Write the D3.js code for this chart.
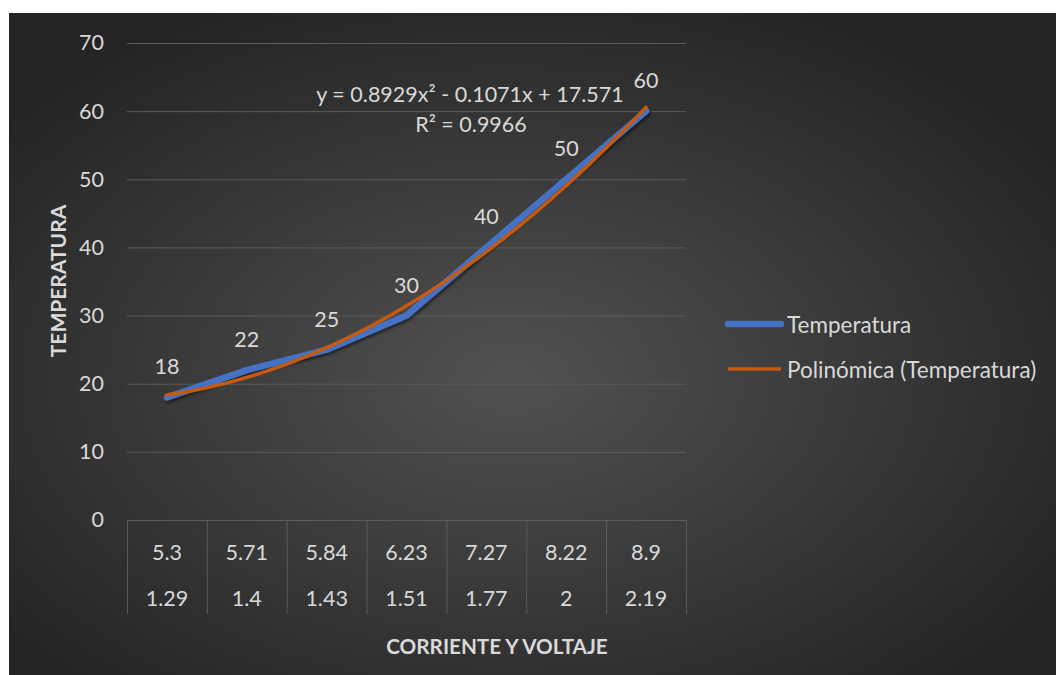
<!DOCTYPE html>
<html>
<head>
<meta charset="utf-8">
<script src="https://cdn.jsdelivr.net/npm/d3@7"></script>
<style>
  html, body { margin: 0; padding: 0; background: #ffffff; }
  svg { display: block; }
  text { font-family: Lato, "Open Sans", sans-serif; fill: #d9d9d9; }
</style>
</head>
<body>
<svg id="chart" width="1056" height="675"></svg>
<script>
// Categories: current (top row) and voltage (bottom row)
const corriente = ["5.3", "5.71", "5.84", "6.23", "7.27", "8.22", "8.9"];
const voltaje   = ["1.29", "1.4", "1.43", "1.51", "1.77", "2", "2.19"];
// Measured temperature per category
const temperatura = [18, 22, 25, 30, 40, 50, 60];
// Polynomial trendline coefficients: a*x^2 + b*x + c (x = category index 1..7)
const trendCoef = [0.8929, -0.1071, 17.571];
const trendLabel = ["y = 0.8929x² - 0.1071x + 17.571", "R² = 0.9966"];
// Value axis ticks
const yTicks = [0, 10, 20, 30, 40, 50, 60, 70];

const svg = d3.select("#chart");
const defs = svg.append("defs");

const numSize = "21.5px";

// Dark radial background
const grad = defs.append("radialGradient")
  .attr("id", "bg").attr("cx", "48%").attr("cy", "55%").attr("r", "62%");
grad.append("stop").attr("offset", "0%").attr("stop-color", "#515151");
grad.append("stop").attr("offset", "100%").attr("stop-color", "#242424");

const shadow = defs.append("filter").attr("id", "shadow")
  .attr("x", "-10%").attr("y", "-10%").attr("width", "130%").attr("height", "130%");
shadow.append("feDropShadow").attr("dx", 1.5).attr("dy", 2).attr("stdDeviation", 1.5)
  .attr("flood-color", "#000").attr("flood-opacity", 0.55);

svg.append("rect").attr("x", 9).attr("y", 13).attr("width", 1056 - 9).attr("height", 675 - 13)
  .attr("fill", "url(#bg)");

const plotL = 127, plotR = 686, plotT = 43, plotB = 520;
const x = d3.scaleLinear().domain([0.5, corriente.length + 0.5]).range([plotL, plotR]);
const y = d3.scaleLinear().domain([0, 70]).range([plotB, plotT]);

const gridColor = "#5a5a5a";

// Horizontal gridlines + value labels
const yAxis = svg.append("g")
  .attr("transform", `translate(${plotL},0)`)
  .call(d3.axisLeft(y).tickValues(yTicks).tickSize(-(plotR - plotL)).tickPadding(23));
yAxis.select(".domain").remove();
yAxis.selectAll(".tick line").attr("stroke", gridColor).attr("stroke-width", 1);
yAxis.selectAll(".tick text")
  .attr("fill", "#d9d9d9").style("font-size", numSize).style("font-family", "Lato, sans-serif");

// Category axis: boundaries with two rows of labels
const bounds = d3.range(0, corriente.length + 1).map(i => i + 0.5);
const xAxis = svg.append("g")
  .attr("transform", `translate(0,${plotB})`)
  .call(d3.axisBottom(x).tickValues(bounds).tickSize(94).tickFormat(""));
xAxis.select(".domain").attr("d", `M${plotL},0.5H${plotR}`).attr("stroke", gridColor);
xAxis.selectAll(".tick line").attr("stroke", gridColor);

const catIdx = d3.range(1, corriente.length + 1);
svg.append("g").selectAll("text").data(corriente).join("text")
  .attr("x", (d, i) => x(catIdx[i])).attr("y", 552)
  .attr("text-anchor", "middle").attr("dominant-baseline", "central")
  .style("font-size", numSize).text(d => d);
svg.append("g").selectAll("text").data(voltaje).join("text")
  .attr("x", (d, i) => x(catIdx[i])).attr("y", 598)
  .attr("text-anchor", "middle").attr("dominant-baseline", "central")
  .style("font-size", numSize).text(d => d);

// Temperature series
const line = d3.line().x((d, i) => x(catIdx[i])).y(d => y(d));
svg.append("path").datum(temperatura)
  .attr("d", line).attr("fill", "none")
  .attr("stroke", "#4472c4").attr("stroke-width", 6.5)
  .attr("stroke-linecap", "round").attr("stroke-linejoin", "round")
  .attr("filter", "url(#shadow)");

// Polynomial trendline
const poly = t => trendCoef[0] * t * t + trendCoef[1] * t + trendCoef[2];
const tSamples = d3.range(0, 121).map(k => 1 + k * (corriente.length - 1) / 120);
svg.append("path").datum(tSamples)
  .attr("d", d3.line().x(t => x(t)).y(t => y(poly(t))))
  .attr("fill", "none").attr("stroke", "#c55a11").attr("stroke-width", 3.5)
  .attr("stroke-linecap", "round");

// Data labels
svg.append("g").selectAll("text").data(temperatura).join("text")
  .attr("x", (d, i) => x(catIdx[i])).attr("y", d => y(d) - 31)
  .attr("text-anchor", "middle").attr("dominant-baseline", "central")
  .style("font-size", numSize).text(d => d);

// Trendline equation
svg.append("text").attr("x", 470).attr("y", 94)
  .attr("text-anchor", "middle").attr("dominant-baseline", "central")
  .style("font-size", "21.5px").text(trendLabel[0]);
svg.append("text").attr("x", 471).attr("y", 124)
  .attr("text-anchor", "middle").attr("dominant-baseline", "central")
  .style("font-size", "21.5px").text(trendLabel[1]);

// Axis titles
svg.append("text")
  .attr("transform", "translate(57,281) rotate(-90)")
  .attr("text-anchor", "middle").attr("dominant-baseline", "central")
  .style("font-size", "21px").style("font-weight", "bold").text("TEMPERATURA");
svg.append("text").attr("x", 497).attr("y", 646)
  .attr("text-anchor", "middle").attr("dominant-baseline", "central")
  .style("font-size", "20.7px").style("font-weight", "bold").text("CORRIENTE Y VOLTAJE");

// Legend
const legend = svg.append("g");
const legendItems = [
  { name: "Temperatura", color: "#4472c4", width: 6.5, y: 324 },
  { name: "Polinómica (Temperatura)", color: "#c55a11", width: 3.5, y: 369 }
];
legend.selectAll("line").data(legendItems).join("line")
  .attr("x1", 728).attr("x2", 781).attr("y1", d => d.y).attr("y2", d => d.y)
  .attr("stroke", d => d.color).attr("stroke-width", d => d.width)
  .attr("stroke-linecap", d => d.width > 5 ? "round" : "butt");
legend.selectAll("text").data(legendItems).join("text")
  .attr("x", 787).attr("y", d => d.y)
  .attr("dominant-baseline", "central")
  .style("font-size", "22.5px").text(d => d.name);
</script>
</body>
</html>
